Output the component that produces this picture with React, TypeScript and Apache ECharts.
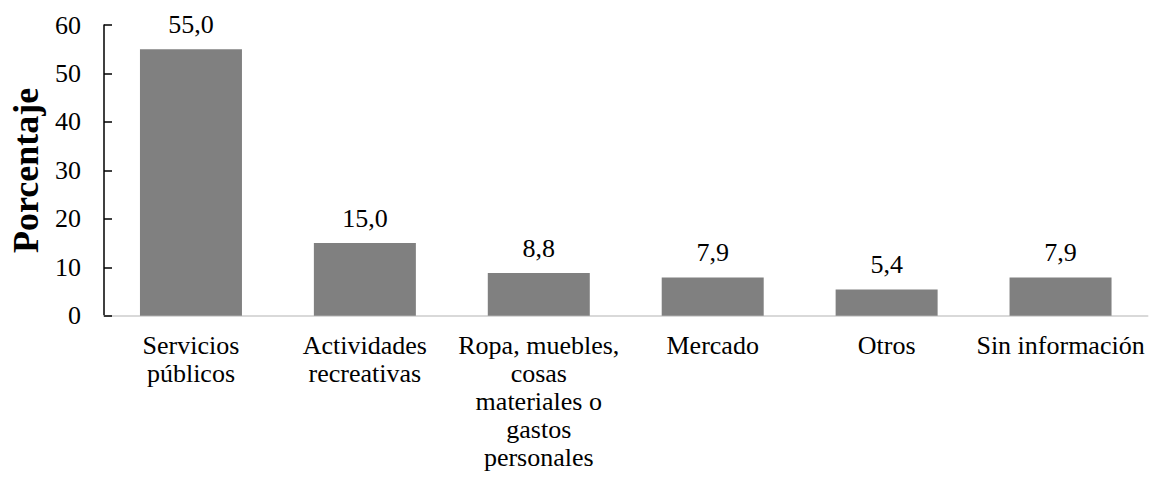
import React, { useEffect, useRef } from "react";
import * as echarts from "echarts";

const categories = [
  "Servicios\npúblicos",
  "Actividades\nrecreativas",
  "Ropa, muebles,\ncosas\nmateriales o\ngastos\npersonales",
  "Mercado",
  "Otros",
  "Sin información",
];
const values = [55.0, 15.0, 8.8, 7.9, 5.4, 7.9];
const yTicks = [0, 10, 20, 30, 40, 50, 60];
const yTitle = "Porcentaje";

const FONT = "Liberation Serif";

export default function App() {
  const ref = useRef<HTMLDivElement>(null);
  useEffect(() => {
    if (!ref.current) return;
    const chart = echarts.init(ref.current, undefined, { renderer: "svg" });
    chart.setOption({
      animation: false,
      backgroundColor: "#ffffff",
      textStyle: { fontFamily: FONT },
      grid: { left: 104, right: 2.5, top: 25, bottom: 167.3, containLabel: false },
      xAxis: {
        type: "category",
        data: categories,
        axisLine: { show: true, lineStyle: { color: "#d9d9d9", width: 2 } },
        axisTick: { show: false },
        axisLabel: {
          interval: 0,
          margin: 16,
          fontFamily: FONT,
          fontSize: 26,
          lineHeight: 28,
          color: "#000000",
          align: "center",
        },
      },
      yAxis: {
        type: "value",
        min: yTicks[0],
        max: yTicks[yTicks.length - 1],
        interval: 10,
        name: yTitle,
        nameLocation: "middle",
        nameRotate: 90,
        nameGap: 60,
        nameTextStyle: {
          fontFamily: FONT,
          fontSize: 36,
          fontWeight: "bold",
          color: "#000000",
        },
        splitLine: { show: false },
        axisLine: { show: true, lineStyle: { color: "#000000", width: 1.5 } },
        axisTick: { show: true, inside: true, length: 8, lineStyle: { color: "#000000", width: 1.5 } },
        axisLabel: {
          margin: 23,
          fontFamily: FONT,
          fontSize: 26,
          color: "#000000",
        },
      },
      series: [
        {
          type: "bar",
          data: values,
          barWidth: 102,
          itemStyle: { color: "#808080" },
          label: {
            show: true,
            position: "top",
            distance: 12,
            fontFamily: FONT,
            fontSize: 26,
            color: "#000000",
            formatter: (p: any) => Number(p.value).toFixed(1).replace(".", ","),
          },
        },
      ],
    });
    return () => chart.dispose();
  }, []);
  return (
    <div
      ref={ref}
      style={{ position: "fixed", left: 0, top: 0, width: 1150, height: 483 }}
    />
  );
}
